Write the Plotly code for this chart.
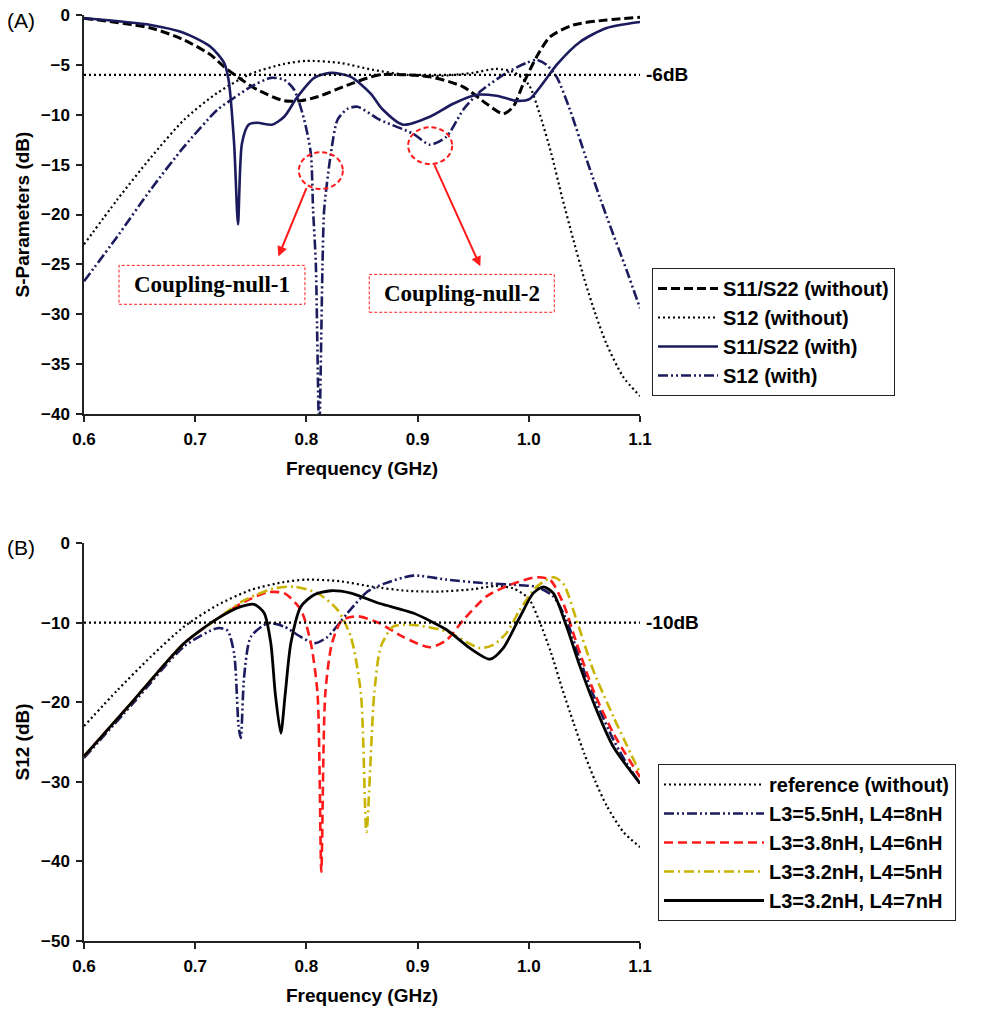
import plotly.graph_objects as go

# ---------------- Panel A data ----------------
s11_wo_f = [0.6, 0.66, 0.69, 0.714, 0.726, 0.738, 0.756, 0.78, 0.795, 0.81, 0.84, 0.866, 0.911,
            0.941, 0.962, 0.977, 0.986, 0.995, 1.007, 1.019, 1.04, 1.07, 1.1]
s11_wo_db = [-0.33, -1.3, -2.5, -4.0, -5.2, -6.2, -7.5, -8.6, -8.6, -8.2, -6.9, -6.0, -6.2,
             -7.2, -8.9, -9.9, -9.2, -6.9, -4.2, -2.2, -1.0, -0.5, -0.23]

ref_f = [0.6, 0.63, 0.66, 0.69, 0.72, 0.75, 0.78, 0.8, 0.83, 0.86, 0.89, 0.92, 0.95, 0.97,
         0.986, 1.0, 1.01, 1.02, 1.03, 1.04, 1.05, 1.06, 1.07, 1.085, 1.1]
ref_db = [-23.0, -18.5, -14.3, -10.5, -7.8, -5.9, -4.9, -4.6, -4.8, -5.5, -6.0, -6.1, -5.8, -5.4,
          -5.7, -7.0, -10.0, -13.8, -18.3, -22.5, -26.5, -30.0, -33.0, -36.3, -38.2]

s11_w_f = [0.6, 0.66, 0.69, 0.714, 0.726, 0.73, 0.735, 0.7385, 0.742, 0.748, 0.756, 0.769, 0.78,
           0.792, 0.807, 0.822, 0.84, 0.858, 0.868, 0.887, 0.911, 0.932, 0.953, 0.971, 0.989,
           1.001, 1.013, 1.025, 1.046, 1.07, 1.1]
s11_w_db = [-0.33, -1.0, -1.8, -3.2, -4.8, -6.5, -12.9, -21.0, -12.9, -11.0, -10.8, -11.0, -10.2,
            -8.2, -6.3, -5.8, -6.2, -7.9, -9.4, -11.0, -10.2, -8.9, -8.0, -8.1, -8.6,
            -8.4, -6.8, -5.0, -2.7, -1.3, -0.7]

s12_w_f = [0.6, 0.63, 0.66, 0.69, 0.72, 0.735, 0.75, 0.768, 0.78, 0.789, 0.798, 0.804, 0.806,
           0.8085, 0.8115, 0.8145, 0.816, 0.822, 0.828, 0.837, 0.846, 0.866, 0.896, 0.911,
           0.926, 0.941, 0.956, 0.98, 0.998, 1.007, 1.016, 1.025, 1.037, 1.052, 1.07, 1.088, 1.1]
s12_w_db = [-26.7, -22.2, -17.5, -13.2, -9.5, -8.3, -7.2, -6.3, -6.5, -7.5, -10.5, -13.9, -19.5,
            -25.0, -42.0, -25.0, -19.5, -13.9, -10.5, -9.4, -9.2, -10.5, -11.9, -13.0,
            -12.2, -9.5, -7.7, -5.8, -4.8, -4.5, -5.0, -6.2, -9.5, -14.5, -20.2, -25.6, -29.4]

thr_a = [-6, -6]
thr_b = [-10, -10]
thr_f = [0.6, 1.1]

# ---------------- Panel B data ----------------
l55_f = [0.6, 0.645, 0.69, 0.72, 0.729, 0.735, 0.739, 0.741, 0.744, 0.75, 0.765, 0.78, 0.795,
         0.807, 0.819, 0.837, 0.855, 0.87, 0.896, 0.926, 0.956, 0.992, 1.007, 1.022, 1.034,
         1.046, 1.061, 1.076, 1.088, 1.1]
l55_db = [-27.0, -20.0, -13.0, -10.7, -11.0, -13.9, -23.0, -24.5, -16.8, -11.8, -10.1, -10.5,
          -11.8, -12.6, -11.8, -8.8, -6.1, -5.1, -4.1, -4.6, -5.0, -5.3, -5.5, -6.7, -9.7,
          -14.7, -20.1, -24.7, -27.7, -30.2]

l38_f = [0.6, 0.645, 0.69, 0.72, 0.744, 0.765, 0.78, 0.795, 0.804, 0.81, 0.8134, 0.817, 0.823,
         0.832, 0.846, 0.866, 0.887, 0.911, 0.926, 0.941, 0.962, 0.986, 1.007, 1.019, 1.031,
         1.043, 1.058, 1.076, 1.1]
l38_db = [-26.8, -19.7, -12.6, -9.5, -7.4, -6.2, -6.3, -8.4, -12.6, -18.9, -41.3, -18.9, -12.6,
          -9.7, -9.2, -10.1, -11.8, -13.1, -12.2, -9.7, -6.7, -5.1, -4.3, -4.6, -7.6,
          -12.6, -18.5, -23.9, -29.4]

l32a_f = [0.6, 0.645, 0.69, 0.72, 0.744, 0.771, 0.789, 0.81, 0.828, 0.84, 0.849, 0.854, 0.861,
          0.867, 0.878, 0.896, 0.926, 0.956, 0.968, 0.98, 0.992, 1.007, 1.022, 1.031, 1.043,
          1.058, 1.076, 1.1]
l32a_db = [-26.8, -19.7, -12.6, -9.5, -7.2, -5.7, -5.5, -6.3, -8.4, -11.8, -18.9, -36.3, -18.9,
           -13.0, -10.5, -10.3, -11.1, -13.2, -12.8, -11.3, -8.4, -5.5, -4.3, -5.1, -9.7,
           -16.0, -21.8, -28.9]

l32b_f = [0.6, 0.645, 0.69, 0.72, 0.741, 0.753, 0.762, 0.768, 0.772, 0.777, 0.781, 0.786, 0.795,
          0.807, 0.822, 0.84, 0.866, 0.896, 0.926, 0.947, 0.965, 0.977, 0.992, 1.004, 1.013,
          1.022, 1.034, 1.046, 1.061, 1.076, 1.1]
l32b_db = [-26.8, -19.7, -12.6, -9.5, -8.0, -7.7, -8.8, -12.6, -18.9, -23.9, -18.9, -12.6, -8.0,
           -6.5, -6.0, -6.3, -7.6, -8.8, -10.9, -13.2, -14.6, -13.2, -9.3, -6.3, -5.5,
           -6.3, -10.5, -15.5, -21.0, -25.6, -30.2]

x_ticks = [0.6, 0.7, 0.8, 0.9, 1.0, 1.1]
x_labels = ["0.6", "0.7", "0.8", "0.9", "1.0", "1.1"]
ya_ticks = [0, -5, -10, -15, -20, -25, -30, -35, -40]
yb_ticks = [0, -10, -20, -30, -40, -50]

NAVY = "#1b1b5e"
RED = "#ff1a1a"
OLIVE = "#c8b400"
FONT = "Liberation Sans, Arial"

# full-window figure (page body margin removed after drawing)
W = 981
H = 1012


def px_x(p):
    return p / W


def px_y(p):
    return 1 - p / H


fig = go.Figure()
SM = 0.7


def add(x, y, name, color, dash, width, xa, ya, legend, show=True):
    fig.add_trace(go.Scatter(
        x=x, y=y, mode="lines", name=name, xaxis=xa, yaxis=ya, legend=legend,
        showlegend=show,
        line=dict(color=color, dash=dash, width=width, shape="spline", smoothing=SM)))


# Panel A
add(s11_wo_f, s11_wo_db, "S11/S22 (without)", "black", "9px,4px", 3, "x", "y", "legend")
add(ref_f, ref_db, "S12 (without)", "black", "2px,3px", 2.2, "x", "y", "legend")
add(s11_w_f, s11_w_db, "S11/S22 (with)", NAVY, "solid", 2.6, "x", "y", "legend")
add(s12_w_f, s12_w_db, "S12 (with)", NAVY, "10px,3px,2px,3px,2px,3px", 2.6, "x", "y", "legend")
fig.add_trace(go.Scatter(x=thr_f, y=thr_a, mode="lines", xaxis="x", yaxis="y", showlegend=False,
                         line=dict(color="black", dash="2px,3px", width=2.2)))

# Panel B
add(ref_f, ref_db, "reference (without)", "black", "2px,3px", 2.2, "x2", "y2", "legend2")
add(l55_f, l55_db, "L3=5.5nH, L4=8nH", NAVY, "10px,3px,2px,3px,2px,3px", 2.6, "x2", "y2", "legend2")
add(l38_f, l38_db, "L3=3.8nH, L4=6nH", RED, "9px,5px", 2.6, "x2", "y2", "legend2")
add(l32a_f, l32a_db, "L3=3.2nH, L4=5nH", OLIVE, "10px,4px,2px,4px", 2.6, "x2", "y2", "legend2")
add(l32b_f, l32b_db, "L3=3.2nH, L4=7nH", "black", "solid", 2.8, "x2", "y2", "legend2")
fig.add_trace(go.Scatter(x=thr_f, y=thr_b, mode="lines", xaxis="x2", yaxis="y2", showlegend=False,
                         line=dict(color="black", dash="2px,3px", width=2.2)))

xdom = [px_x(84), px_x(640)]
axis_common = dict(showline=True, linecolor="#222", linewidth=1.5, ticks="outside", ticklen=6,
                   tickcolor="#222", tickwidth=1.5, showgrid=False, zeroline=False,
                   automargin=False, ticklabelstandoff=3, ticklabeloverflow="allow",
                   tickfont=dict(family=FONT, size=17, color="black", weight="bold"))
title_font = dict(family=FONT, size=19, color="black", weight="bold")
xax = dict(range=[0.6, 1.1], tickvals=x_ticks, ticktext=x_labels, domain=xdom,
           title=dict(text="Frequency (GHz)", font=title_font, standoff=14),
           **axis_common)

fig.update_layout(
    width=W, height=H, margin=dict(l=0, r=0, t=0, b=0, autoexpand=False),
    plot_bgcolor="white", paper_bgcolor="white",
    xaxis=dict(anchor="y", **xax),
    xaxis2=dict(anchor="y2", **xax),
    yaxis=dict(range=[-40, 0], tickvals=ya_ticks, domain=[px_y(414), px_y(15)],
               anchor="x",
               title=dict(text="S-Parameters (dB)", font=title_font, standoff=6),
               **axis_common),
    yaxis2=dict(range=[-50, 0], tickvals=yb_ticks, domain=[px_y(941), px_y(543)],
                anchor="x2",
                title=dict(text="S12 (dB)", font=title_font, standoff=6),
                **axis_common),
    legend=dict(x=px_x(652), y=px_y(268), xanchor="left", yanchor="top",
                bordercolor="#222", borderwidth=1, bgcolor="white", itemwidth=60,
                font=dict(family=FONT, size=20, color="black", weight="bold"),
                tracegroupgap=0),
    legend2=dict(x=px_x(658), y=px_y(764), xanchor="left", yanchor="top",
                 bordercolor="#222", borderwidth=1, bgcolor="white", itemwidth=100,
                 font=dict(family=FONT, size=20, color="black", weight="bold"),
                 tracegroupgap=0),
)

# Labels
fig.add_annotation(text="(A)", x=px_x(5), y=px_y(21), xref="paper", yref="paper",
                   xanchor="left", yanchor="middle", showarrow=False,
                   font=dict(family=FONT, size=21, color="black"))
fig.add_annotation(text="(B)", x=px_x(5), y=px_y(547), xref="paper", yref="paper",
                   xanchor="left", yanchor="middle", showarrow=False,
                   font=dict(family=FONT, size=21, color="black"))
fig.add_annotation(text="-6dB", x=1.1, y=-6, xref="x", yref="y", xanchor="left", xshift=4,
                   showarrow=False, font=dict(family=FONT, size=19, color="black", weight="bold"))
fig.add_annotation(text="-10dB", x=1.1, y=-10, xref="x2", yref="y2", xanchor="left", xshift=4,
                   showarrow=False, font=dict(family=FONT, size=19, color="black", weight="bold"))

# Coupling-null circles, arrows and boxes (panel A)
for cx, cy in [(0.813, -15.6), (0.9113, -13.1)]:
    fig.add_shape(type="circle", xref="x", yref="y", x0=cx - 0.0198, x1=cx + 0.0198,
                  y0=cy - 1.84, y1=cy + 1.84, line=dict(color=RED, width=2, dash="5px,3px"))
fig.add_annotation(x=0.7748, y=-24.2, ax=0.8006, ay=-17.2, xref="x", yref="y", axref="x",
                   ayref="y", showarrow=True, arrowhead=2, arrowsize=1, arrowwidth=2,
                   arrowcolor=RED, text="")
fig.add_annotation(x=0.9564, y=-25.2, ax=0.9146, ay=-14.9, xref="x", yref="y", axref="x",
                   ayref="y", showarrow=True, arrowhead=2, arrowsize=1, arrowwidth=2,
                   arrowcolor=RED, text="")
for (x0, x1, y0, y1, label) in [(0.6315, 0.7987, -29.0, -25.1, "Coupling-null-1"),
                                (0.8565, 1.0229, -29.8, -26.0, "Coupling-null-2")]:
    fig.add_shape(type="rect", xref="x", yref="y", x0=x0, x1=x1, y0=y0, y1=y1,
                  line=dict(color=RED, width=1, dash="3px,2px"), fillcolor="white", layer="below")
    fig.add_annotation(text=label, x=(x0 + x1) / 2, y=(y0 + y1) / 2, xref="x", yref="y",
                       showarrow=False,
                       font=dict(family="Liberation Serif, Times New Roman", size=23,
                                 color="black", weight="bold"))

fig.write_html("out.html", config={"displayModeBar": False},
               post_script="document.body.style.margin='0px';document.body.style.overflow='hidden';")
